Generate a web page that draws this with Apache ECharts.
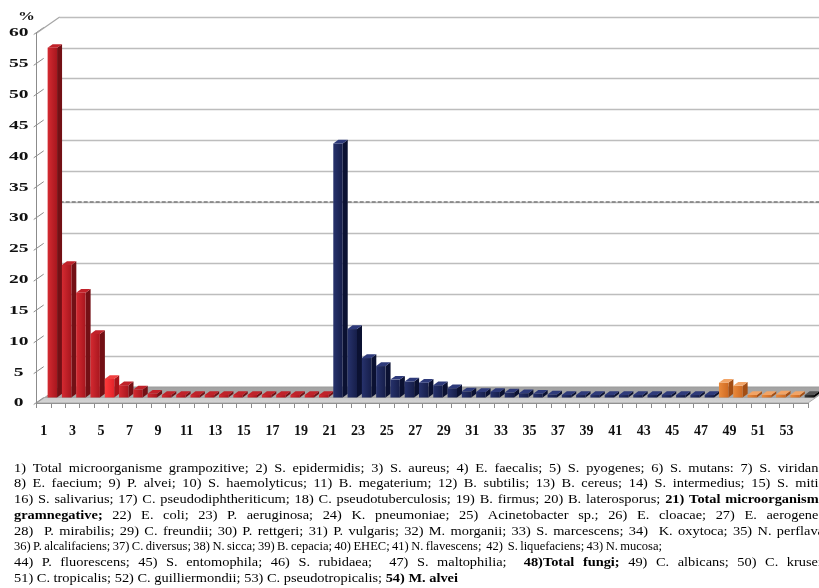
<!DOCTYPE html>
<html>
<head>
<meta charset="utf-8">
<script src="https://cdn.jsdelivr.net/npm/echarts@6/dist/echarts.min.js"></script>
<style>
  html, body { margin: 0; padding: 0; background: #fff; }
  #chart { width: 819px; height: 588px; }
</style>
</head>
<body>
<div id="chart"></div>
<script>
// Microorganism number (1..54) on the x axis
const categories = ['1','2','3','4','5','6','7','8','9','10','11','12','13','14','15','16','17','18',
  '19','20','21','22','23','24','25','26','27','28','29','30','31','32','33','34','35','36','37','38',
  '39','40','41','42','43','44','45','46','47','48','49','50','51','52','53','54'];

// Share (%) per group
const gramPositive = [56.7, 21.5, 17.0, 10.3, 3.0, 2.0, 1.3, 0.6, 0.4, 0.4, 0.4, 0.4, 0.4, 0.4,
  0.4, 0.4, 0.4, 0.4, 0.4, 0.4];                                   // 1..20
const gramNegative = [41.2, 11.1, 6.4, 5.1, 2.9, 2.6, 2.4, 2.0, 1.5, 1.0, 0.9, 0.9, 0.8, 0.7,
  0.6, 0.5, 0.4, 0.4, 0.4, 0.4, 0.4, 0.4, 0.4, 0.4, 0.4, 0.4, 0.4]; // 21..47
const fungi = [2.4, 1.9, 0.4, 0.4, 0.5, 0.4];                        // 48..53
const mAlvei = [0.4];                                                // 54

// Value axis ticks
const yTicks = [0, 5, 10, 15, 20, 25, 30, 35, 40, 45, 50, 55, 60];
const guideLevel = 30;

const groups = [gramPositive, gramNegative, fungi, mAlvei];
const barData = [];
groups.forEach((g, gi) => g.forEach(v => barData.push([barData.length, v, gi])));

// Pseudo-3D geometry
const DEPTH = [23, -16];        // front plane -> back wall
const BAR_SHIFT = [8.5, -5.5];  // bar front face sits a little inside the box
const BAR_DEPTH = [5, -3.7];    // bar thickness
const FONT = '"Liberation Serif", "Times New Roman", serif';

const PALETTES = [
  { front: ['#d42a31', '#a8161e'], side: '#731015', top: '#c0222a' },
  { front: ['#27326c', '#161e4a'], side: '#0b1132', top: '#2e3a7a' },
  { front: ['#ea8a3c', '#cf6a22'], side: '#a34e14', top: '#f2a466' },
  { front: ['#3a3a3a', '#151515'], side: '#000000', top: '#555555' }
];
const BRIGHT = { front: ['#ff3b3b', '#e4232a'], side: '#a8141a', top: '#f04040' };

function grad(c0, c1) {
  return new echarts.graphic.LinearGradient(0, 0, 1, 0, [
    { offset: 0, color: c0 }, { offset: 1, color: c1 }
  ]);
}

function renderBar(params, api) {
  const idx = api.value(0), val = api.value(1), grp = api.value(2);
  const base = api.coord([idx, 0]);
  const top = api.coord([idx, val]);
  const band = api.size([1, 0])[0];
  const w = band * 0.66;
  const x0 = base[0] - w / 2 + BAR_SHIFT[0];
  const x1 = x0 + w;
  const yb = base[1] + BAR_SHIFT[1];
  const yt = top[1] + BAR_SHIFT[1];
  const dx = BAR_DEPTH[0], dy = BAR_DEPTH[1];
  const pal = idx === 4 ? BRIGHT : PALETTES[grp];
  return {
    type: 'group',
    children: [
      { type: 'polygon', shape: { points: [[x1, yt], [x1 + dx, yt + dy], [x1 + dx, yb + dy], [x1, yb]] },
        style: { fill: pal.side } },
      { type: 'rect', shape: { x: x0, y: yt, width: w, height: Math.max(yb - yt, 0.5) },
        style: { fill: grad(pal.front[0], pal.front[1]) } },
      { type: 'polygon', shape: { points: [[x0, yt], [x1, yt], [x1 + dx, yt + dy], [x0 + dx, yt + dy]] },
        style: { fill: pal.top } }
    ]
  };
}

function renderFloor(params, api) {
  const cs = params.coordSys;
  const y0 = api.coord([0, 0])[1];
  const xl = cs.x, xr = cs.x + cs.width;
  const [dx, dy] = DEPTH;
  return {
    type: 'polygon',
    shape: { points: [[xl, y0], [xr, y0], [xr + dx, y0 + dy], [xl + dx, y0 + dy]] },
    style: {
      fill: new echarts.graphic.LinearGradient(0, 1, 0, 0, [
        { offset: 0, color: '#d6d6d6' }, { offset: 0.3, color: '#cdcdcd' },
        { offset: 0.33, color: '#a9a9a9' }, { offset: 1, color: '#a2a2a2' }
      ]),
      stroke: '#9a9a9a', lineWidth: 0.8
    }
  };
}

function renderWallTick(params, api) {
  const v = api.value(1);
  const p = api.coord([0, v]);
  const band = api.size([1, 0])[0];
  const ax = p[0] - band / 2;
  const y = p[1];
  const children = [
    { type: 'line', shape: { x1: ax - 3, y1: y + 1.5, x2: ax + 7, y2: y - 5.5 },
      style: { stroke: '#8c8c8c', lineWidth: 1 } },
    { type: 'text', x: ax - 18, y: y, scaleX: 1.5,
      style: { text: String(v), font: 'bold 13px ' + FONT, fill: '#111', align: 'center', verticalAlign: 'middle' } }
  ];
  if (v === yTicks[yTicks.length - 1]) {
    children.push({ type: 'line', shape: { x1: ax, y1: y, x2: ax + DEPTH[0], y2: y + DEPTH[1] },
      style: { stroke: '#a6a6a6', lineWidth: 1.2 } });
  }
  return { type: 'group', children };
}

function renderGuide(params, api) {
  const cs = params.coordSys;
  const y = api.coord([0, api.value(1)])[1];
  return { type: 'line', shape: { x1: cs.x, y1: y, x2: cs.x + cs.width, y2: y },
    style: { stroke: '#7a7a7a', lineWidth: 1.3, lineDash: [4, 2] } };
}

// Footnote listing the organisms
const legendLines = [
  [['1) Total microorganisme grampozitive; 2) S. epidermidis; 3) S. aureus; 4) E. faecalis; 5) S. pyogenes; 6) S. mutans: 7) S. viridans;', false]],
  [['8) E. faecium; 9) P. alvei; 10) S. haemolyticus; 11) B. megaterium; 12) B. subtilis; 13) B. cereus; 14) S. intermedius; 15) S. mitis;', false]],
  [['16) S. salivarius; 17) C. pseudodiphtheriticum; 18) C. pseudotuberculosis; 19) B. firmus; 20) B. laterosporus;', false], ['21) Total microorganisme', true]],
  [['gramnegative;', true], ['22) E. coli; 23) P. aeruginosa; 24) K. pneumoniae; 25) Acinetobacter sp.; 26) E. cloacae; 27) E. aerogenes;', false]],
  [['28)  P. mirabilis; 29) C. freundii; 30) P. rettgeri; 31) P. vulgaris; 32) M. morganii; 33) S. marcescens; 34)  K. oxytoca; 35) N. perflava;', false]],
  [['36) P. alcalifaciens; 37) C. diversus; 38) N. sicca; 39) B. cepacia; 40) EHEC; 41) N. flavescens;  42)  S. liquefaciens; 43) N. mucosa;', false]],
  [['44) P. fluorescens; 45) S. entomophila; 46) S. rubidaea;  47) S. maltophilia; ', false], ['48)Total fungi;', true], ['49) C. albicans; 50) C. krusei;', false]],
  [['51) C. tropicalis; 52) C. guilliermondii; 53) C. pseudotropicalis;', false], ['54) M. alvei', true]]
];
// how each footnote line is set: justified to a right edge, tightened to fit, or left ragged
const lineLayout = [
  { mode: 'justify', right: 828 }, { mode: 'justify', right: 828 }, { mode: 'justify', right: 825 },
  { mode: 'justify', right: 828 }, { mode: 'justify', right: 828 }, { mode: 'tight', right: 662 },
  { mode: 'justify', right: 826 }, { mode: 'ragged' }
];
const TEXT_LEFT = 14, TEXT_TOP = 468.5, LINE_STEP = 15.7, RAGGED_END = 458;
const TEXT_PX = 12.5, TIGHT_GAP = 2.4;

const measureCtx = document.createElement('canvas').getContext('2d');
function textWidth(s, bold) {
  measureCtx.font = (bold ? 'bold ' : '') + TEXT_PX + 'px ' + FONT;
  return measureCtx.measureText(s).width;
}
function tokens(line) {
  const out = [];
  line.forEach(([txt, bold]) => txt.split(' ').forEach(w => out.push({ w, bold })));
  return out;
}
function glyphWidth(toks) {
  return toks.reduce((s, t) => s + textWidth(t.w, t.bold), 0);
}
const spaceW = textWidth(' ', false);
// horizontal scale taken from the last (ragged) line
const lastToks = tokens(legendLines[legendLines.length - 1]);
const textScale = (RAGGED_END - TEXT_LEFT) / (glyphWidth(lastToks) + spaceW * (lastToks.length - 1));

const legendGraphics = [];
legendLines.forEach((line, li) => {
  const toks = tokens(line);
  const layout = lineLayout[li];
  let sx = textScale, gap = spaceW * textScale;
  if (layout.mode === 'tight') {
    gap = TIGHT_GAP;
    sx = Math.min(textScale, (layout.right - TEXT_LEFT - gap * (toks.length - 1)) / glyphWidth(toks));
  } else if (layout.mode === 'justify') {
    gap = (layout.right - TEXT_LEFT - glyphWidth(toks) * sx) / (toks.length - 1);
  }
  let x = TEXT_LEFT;
  const y = TEXT_TOP + li * LINE_STEP;
  toks.forEach(t => {
    if (t.w) {
      legendGraphics.push({
        type: 'text', x, y, scaleX: sx, silent: true,
        style: { text: t.w, font: (t.bold ? 'bold ' : '') + TEXT_PX + 'px ' + FONT, fill: '#000',
          align: 'left', verticalAlign: 'middle' }
      });
    }
    x += textWidth(t.w, t.bold) * sx + gap;
  });
});

const chart = echarts.init(document.getElementById('chart'), null, { renderer: 'canvas' });
chart.setOption({
  animation: false,
  backgroundColor: '#ffffff',
  grid: [
    { left: 36.7, top: 33, width: 771.3, height: 370 },
    { left: 36.7 + DEPTH[0], top: 33 + DEPTH[1], width: 771.3, height: 370 }
  ],
  xAxis: [
    {
      gridIndex: 0, type: 'category', data: categories,
      axisLine: { lineStyle: { color: '#8c8c8c' } },
      axisTick: { show: true, interval: 0, length: 5, lineStyle: { color: '#8c8c8c' } },
      axisLabel: { interval: 1, margin: 21, fontFamily: FONT, fontWeight: 'bold', fontSize: 14, color: '#111' },
      splitLine: { show: false }
    },
    { gridIndex: 1, type: 'category', data: categories, show: false }
  ],
  yAxis: [
    {
      gridIndex: 0, type: 'value', min: 0, max: 60, interval: 5,
      axisLine: { show: true, lineStyle: { color: '#8c8c8c' } },
      axisTick: { show: false }, axisLabel: { show: false }, splitLine: { show: false }
    },
    {
      gridIndex: 1, type: 'value', min: 0, max: 60, interval: 5,
      axisLine: { show: false }, axisTick: { show: false }, axisLabel: { show: false },
      splitLine: { show: true, lineStyle: { color: '#bdbdbd', width: 1.4 } }
    }
  ],
  graphic: [
    { type: 'text', x: 18, y: 17, scaleX: 1.3, silent: true,
      style: { text: '%', font: 'bold 13px ' + FONT, fill: '#111', align: 'left', verticalAlign: 'middle' } }
  ].concat(legendGraphics),
  series: [
    { type: 'custom', name: 'guide', xAxisIndex: 1, yAxisIndex: 1, clip: false, z: 1, silent: true,
      data: [[0, guideLevel]], encode: { x: 0, y: 1 }, renderItem: renderGuide },
    { type: 'custom', name: 'floor', xAxisIndex: 0, yAxisIndex: 0, clip: false, z: 2, silent: true,
      data: [[0, 0]], encode: { x: 0, y: 1 }, renderItem: renderFloor },
    { type: 'custom', name: 'wall', xAxisIndex: 0, yAxisIndex: 0, clip: false, z: 2, silent: true,
      data: yTicks.map(v => [0, v]), encode: { x: 0, y: 1 }, renderItem: renderWallTick },
    { type: 'custom', name: 'share', xAxisIndex: 0, yAxisIndex: 0, clip: false, z: 3,
      data: barData, encode: { x: 0, y: 1 }, renderItem: renderBar }
  ]
});
</script>
</body>
</html>
